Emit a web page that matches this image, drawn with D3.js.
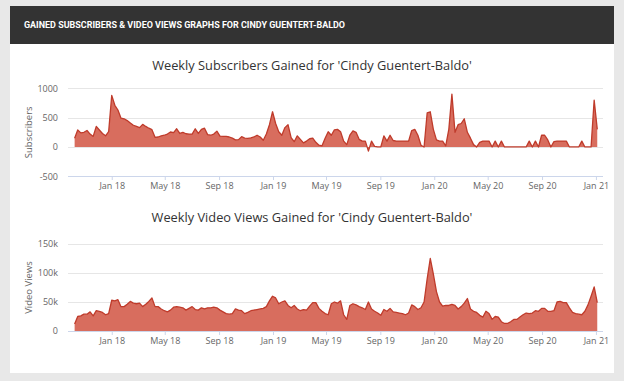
<!DOCTYPE html>
<html>
<head>
<meta charset="utf-8">
<script src="https://cdnjs.cloudflare.com/ajax/libs/d3/7.8.5/d3.min.js"></script>
<style>
  html, body { margin: 0; padding: 0; background: #e8e8e8; }
  svg { display: block; }
</style>
</head>
<body>
<svg id="chart" width="624" height="381"></svg>
<script>
// ---------------- DATA ----------------
const headerText = "GAINED SUBSCRIBERS & VIDEO VIEWS GRAPHS FOR CINDY GUENTERT-BALDO";
const subsTitle = "Weekly Subscribers Gained for 'Cindy Guentert-Baldo'";
const viewsTitle = "Weekly Video Views Gained for 'Cindy Guentert-Baldo'";
const firstWeek = "2017-10-09"; // first weekly data point
const subsTicks = [-500, 0, 500, 1000];
const viewsTicks = [0, 50000, 100000, 150000];
const viewsTickLabels = ["0", "50k", "100k", "150k"];

const weeklySubscribers = [
  150,290,240,250,280,220,180,350,290,230,190,260,
  880,710,630,490,480,450,410,370,350,330,385,350,320,295,
  165,170,190,200,220,255,245,310,230,250,225,220,220,310,230,300,
  320,210,200,220,270,185,180,180,170,150,120,125,175,150,145,155,170,200,170,115,220,
  380,600,400,260,200,330,380,160,90,190,130,70,100,140,150,80,30,20,150,260,200,290,300,
  260,100,40,200,275,250,130,100,100,-70,100,10,0,0,190,100,200,110,100,100,100,100,100,
  280,300,200,30,0,580,600,300,120,100,100,20,300,900,250,380,400,480,250,150,40,0,
  80,100,100,100,0,100,0,100,0,
  0,0,0,0,0,0,0,
  100,0,100,0,200,200,120,0,90,100,100,100,100,0,0,0,0,100,0,0,0,800,300
];

const weeklyViews = [
  12000,25000,26000,29000,29000,33000,26000,35000,34000,32000,28000,30000,
  53000,52000,54000,42000,42000,46000,51000,48000,47000,48000,42000,46000,51000,57000,
  42000,42000,38000,35000,33000,36000,41000,42000,41000,40000,36000,39000,42000,37000,
  36000,40000,38000,40000,40000,41000,40000,
  36000,33000,30000,29000,30000,38000,36000,35000,30000,32000,35000,36000,37000,38000,
  39000,42000,52000,60000,57000,47000,50000,52000,44000,40000,44000,38000,35000,37000,
  36000,43000,49000,49000,39000,34000,30000,28000,47000,50000,48000,52000,28000,20000,
  44000,47000,45000,42000,40000,37000,50000,38000,34000,31000,27000,37000,34000,39000,
  33000,32000,31000,30000,28000,31000,45000,42000,37000,
  40000,50000,90000,125000,98000,68000,50000,43000,44000,44000,46000,44000,38000,42000,
  48000,56000,38000,34000,32000,27000,24000,34000,30000,20000,25000,24000,16000,13000,
  13000,16000,20000,20000,24000,28000,31000,30000,31000,35000,34000,39000,39000,34000,
  34000,35000,50000,51000,49000,49000,40000,32000,30000,29000,28000,34000,45000,60000,
  76000,49000
];

// ---------------- DRAW ----------------
const svg = d3.select("#chart");
const FONT = "'Open Sans', 'DejaVu Sans', sans-serif";
const fillCol = "#d86d5e";
const lineCol = "#bf3b2b";

// card
svg.append("rect").attr("x", 10).attr("y", 6).attr("width", 604).attr("height", 367).attr("fill", "#ffffff");
svg.append("rect").attr("x", 10).attr("y", 6).attr("width", 604).attr("height", 38).attr("fill", "#333333");
svg.append("text").attr("x", 24).attr("y", 28)
  .attr("fill", "#ffffff").attr("font-family", "Roboto, 'DejaVu Sans', sans-serif")
  .attr("font-weight", "bold").attr("font-size", 8.6)
  .attr("textLength", 321).attr("lengthAdjust", "spacingAndGlyphs")
  .text(headerText);

const t0 = new Date(firstWeek + "T00:00:00Z");
const mkDates = arr => arr.map((v, i) => ({ date: d3.utcDay.offset(t0, 7 * i), value: v }));

const x = d3.scaleUtc()
  .domain([new Date(Date.UTC(2017, 8, 24)), new Date(Date.UTC(2021, 0, 17))])
  .range([68, 603]);

function drawChart(cfg) {
  const g = svg.append("g");
  const y = d3.scaleLinear().domain(cfg.domain).range([cfg.bottom, cfg.top]);
  const data = mkDates(cfg.values);

  // title
  g.append("text").attr("x", 312).attr("y", cfg.titleY)
    .attr("text-anchor", "middle").attr("fill", "#333333")
    .attr("font-family", FONT).attr("font-size", 12.8)
    .text(cfg.title);

  // gridlines
  g.selectAll("line.grid").data(cfg.ticks).join("line")
    .attr("x1", 68).attr("x2", 603)
    .attr("y1", d => Math.round(y(d)) + 0.5).attr("y2", d => Math.round(y(d)) + 0.5)
    .attr("stroke", "#e6e6e6").attr("stroke-width", 1);

  // y labels
  const yAxis = d3.axisLeft(y).tickValues(cfg.ticks).tickSize(0).tickPadding(0)
    .tickFormat((d, i) => cfg.tickLabels[i]);
  const ya = g.append("g").attr("transform", "translate(58,0)").call(yAxis);
  ya.select(".domain").remove();
  ya.selectAll("text").attr("font-family", FONT).attr("font-size", 9).attr("fill", "#666666");

  // y title
  g.append("text")
    .attr("transform", `translate(${cfg.yTitleX},${(cfg.top + cfg.bottom) / 2}) rotate(-90)`)
    .attr("text-anchor", "middle").attr("dominant-baseline", "middle")
    .attr("font-family", FONT).attr("font-size", 9.5).attr("fill", "#666666")
    .text(cfg.yTitle);

  // area
  const area = d3.area().x(d => x(d.date)).y0(y(0)).y1(d => y(d.value));
  const line = d3.line().x(d => x(d.date)).y(d => y(d.value));
  g.append("path").datum(data).attr("d", area).attr("fill", fillCol);
  g.append("path").datum(data).attr("d", line).attr("fill", "none")
    .attr("stroke", lineCol).attr("stroke-width", 1.3).attr("stroke-linejoin", "round");

  // x axis
  const xAxis = d3.axisBottom(x).ticks(d3.utcMonth.every(4)).tickFormat(d3.utcFormat("%b %y"))
    .tickSize(4).tickPadding(3);
  const xa = g.append("g").attr("transform", `translate(0,${cfg.axisY})`).call(xAxis);
  xa.select(".domain").attr("stroke", "#ccd6eb").attr("d", `M68,0.5H603`);
  xa.selectAll(".tick line").attr("stroke", "#ccd6eb");
  xa.selectAll("text").attr("font-family", FONT).attr("font-size", 9).attr("fill", "#666666");
}

drawChart({
  title: subsTitle, titleY: 70, values: weeklySubscribers,
  domain: [-500, 1000], top: 88.3, bottom: 176.3, axisY: 176,
  ticks: subsTicks, tickLabels: subsTicks.map(String),
  yTitle: "Subscribers", yTitleX: 29
});

drawChart({
  title: viewsTitle, titleY: 222, values: weeklyViews,
  domain: [0, 150000], top: 244, bottom: 331, axisY: 331,
  ticks: viewsTicks, tickLabels: viewsTickLabels,
  yTitle: "Video Views", yTitleX: 29
});
</script>
</body>
</html>
